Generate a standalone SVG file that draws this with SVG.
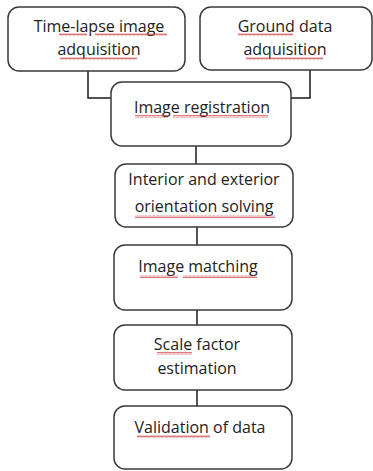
<svg xmlns="http://www.w3.org/2000/svg" width="373" height="471" viewBox="0 0 373 471">
<defs>
<style>
.box{fill:#fff;stroke:#3a3a3a;stroke-width:1.5}
.lbl{font-family:"Open Sans","Liberation Sans",sans-serif;font-size:16px;fill:#222;text-anchor:middle}
.con{fill:none;stroke:#1a1a1a;stroke-width:1.5}
.sq{fill:url(#wave)}
</style>
<pattern id="wave" x="0" y="0" width="4" height="3" patternUnits="userSpaceOnUse">
<path d="M0,2.5 L1,0.5 L2,2.5 L3,0.5 L4,2.5" fill="none" stroke="#d04040" stroke-width="0.7"/>
</pattern>
</defs>
<rect width="373" height="471" fill="#fff"/>
<g id="connectors">
<path class="con" d="M88,71 V98 H111"/>
<path class="con" d="M310,70 V98 H291"/>
<path class="con" d="M196,146 V164"/>
<path class="con" d="M197,227 V245"/>
<path class="con" d="M197,310 V325"/>
<path class="con" d="M197,390 V406"/>
</g>
<g id="n1">
<rect class="box" x="8" y="7" width="177" height="64" rx="11"/>
<text class="lbl" x="99" y="32">Time-lapse image</text>
<text class="lbl" x="99" y="55">adquisition</text>
<rect class="sq" x="59" y="33" width="28" height="3"/>
<rect class="sq" x="95" y="33" width="72" height="3"/>
<rect class="sq" x="60" y="57" width="77" height="3"/>
</g>
<g id="n2">
<rect class="box" x="200" y="7" width="172" height="63" rx="11"/>
<text class="lbl" x="285" y="32">Ground data</text>
<text class="lbl" x="285" y="55">adquisition</text>
<rect class="sq" x="238" y="33" width="55" height="3"/>
<rect class="sq" x="246" y="57" width="77" height="3"/>
</g>
<g id="n3">
<rect class="box" x="111" y="82" width="180" height="64" rx="11"/>
<text class="lbl" x="202" y="113">Image registration</text>
<rect class="sq" x="135" y="115" width="33" height="3"/>
<rect class="sq" x="173" y="115" width="95" height="3"/>
</g>
<g id="n4">
<rect class="box" x="115" y="164" width="178" height="63" rx="11"/>
<text class="lbl" x="204" y="185">Interior and exterior</text>
<text class="lbl" x="204" y="212">orientation solving</text>
<rect class="sq" x="135" y="215" width="140" height="3"/>
</g>
<g id="n5">
<rect class="box" x="114" y="245" width="178" height="65" rx="11"/>
<text class="lbl" x="198" y="272">Image matching</text>
<rect class="sq" x="140" y="275" width="38" height="3"/>
<rect class="sq" x="183" y="275" width="74" height="3"/>
</g>
<g id="n6">
<rect class="box" x="114" y="325" width="178" height="65" rx="11"/>
<text class="lbl" x="197" y="350">Scale factor</text>
<text class="lbl" x="197" y="374">estimation</text>
<rect class="sq" x="157" y="352" width="35" height="3"/>
</g>
<g id="n7">
<rect class="box" x="114" y="406" width="178" height="63" rx="11"/>
<text class="lbl" x="200" y="433">Validation of data</text>
<rect class="sq" x="137" y="435" width="73" height="3"/>
</g>
</svg>
